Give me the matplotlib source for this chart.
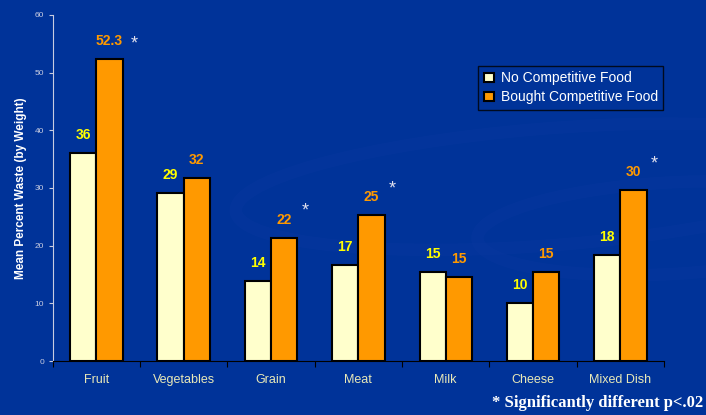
import numpy as np
import matplotlib.pyplot as plt
from matplotlib.patches import Ellipse

plt.rcParams['font.family'] = ['Liberation Sans', 'DejaVu Sans']

# data
categories = ['Fruit', 'Vegetables', 'Grain', 'Meat', 'Milk', 'Cheese', 'Mixed Dish']
no_comp = [36.0, 29.2, 13.9, 16.6, 15.4, 10.1, 18.4]
bought = [52.3, 31.8, 21.4, 25.3, 14.5, 15.4, 29.6]
no_comp_labels = ['36', '29', '14', '17', '15', '10', '18']
bought_labels = ['52.3', '32', '22', '25', '15', '15', '30']
significant = [True, False, True, True, False, False, True]

bg = '#003399'
fig = plt.figure(figsize=(7.06, 4.15), dpi=100, facecolor=bg)

# faint swoosh in the background
for cx, cy, w, h, ang in [(0.78, 0.55, 0.9, 0.28, 8), (0.95, 0.45, 0.55, 0.22, 6)]:
    fig.patches.append(Ellipse((cx, cy), w, h, angle=ang, transform=fig.transFigure,
                               fill=False, lw=9, ec='#0a38a0', alpha=0.35, zorder=-5))

ax = fig.add_axes([0.0746, 0.130, 0.866, 0.834])
ax.set_zorder(2)
ax.set_facecolor('none')

x = np.arange(len(categories))
w = 0.3
b1 = ax.bar(x - w / 2, no_comp, w, color='#FFFFCC', edgecolor='black', linewidth=1.5,
            label='No Competitive Food', zorder=3)
b2 = ax.bar(x + w / 2, bought, w, color='#FF9900', edgecolor='black', linewidth=1.5,
            label='Bought Competitive Food', zorder=3)

for i in range(len(categories)):
    ax.annotate(no_comp_labels[i], (x[i] - w / 2, no_comp[i]), xytext=(0, 13),
                textcoords='offset points', ha='center', va='center',
                color='#FFFF00', fontsize=10, fontweight='bold')
    ax.annotate(bought_labels[i], (x[i] + w / 2, bought[i]), xytext=(0, 13),
                textcoords='offset points', ha='center', va='center',
                color='#FF9900', fontsize=10, fontweight='bold')
    if significant[i]:
        dx = 12 + 1.5 * len(bought_labels[i])
        dy = 11 if len(bought_labels[i]) > 2 else 19
        ax.annotate('*', (x[i] + w / 2, bought[i]), xytext=(dx, dy),
                    textcoords='offset points', ha='center', va='center',
                    color='#E0E0EE', fontsize=13)

ax.set_xlim(-0.5, len(categories) - 0.5)
ax.set_ylim(0, 60)
ax.set_yticks(range(0, 61, 10))
ax.set_xticks(np.arange(-0.5, len(categories), 1))
ax.set_xticklabels([])
ax.set_xticks(x, minor=True)
ax.set_xticklabels(categories, minor=True)
ax.tick_params(axis='x', which='major', length=4, color='black', direction='out')
ax.tick_params(axis='x', which='minor', length=0, pad=9, labelsize=9, labelcolor='#E8E8B8')
ax.tick_params(axis='y', length=3, color='#C8CCE0', labelsize=6, labelcolor='#C8CCE0', pad=3)

for s in ['top', 'right']:
    ax.spines[s].set_visible(False)
ax.spines['left'].set_color('#C8CCE0')
ax.spines['bottom'].set_color('black')

ax.set_ylabel('Mean Percent Waste (by Weight)', color='white', fontsize=8.5,
              fontweight='bold', labelpad=6)

leg = ax.legend(loc='upper right', bbox_to_anchor=(1.01, 0.873), fontsize=10,
                frameon=True, fancybox=False, facecolor=bg, edgecolor='black',
                labelcolor='white', handlelength=0.7, handleheight=0.7,
                handletextpad=0.5, borderpad=0.4, labelspacing=0.35)
leg.get_frame().set_linewidth(1)

fig.text(0.697, 0.03, '* Significantly different p<.02', color='white',
         fontsize=12, family='Liberation Serif', fontweight='bold', va='center')

fig.savefig('out.png', dpi=100, facecolor=bg)
